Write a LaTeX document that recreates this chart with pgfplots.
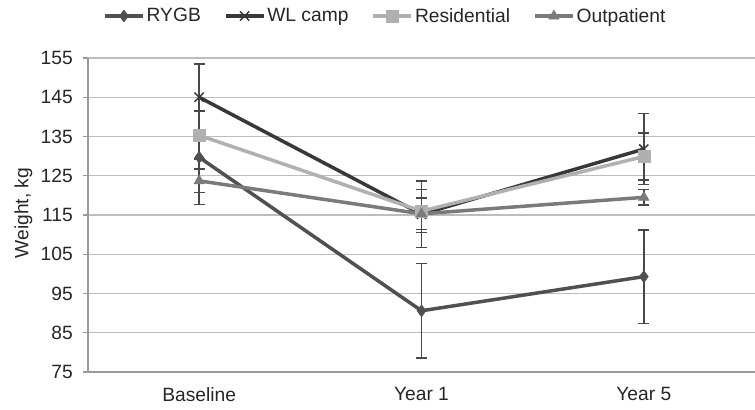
\documentclass[border=0pt]{standalone}
\usepackage{pgfplots}
\pgfplotsset{compat=1.18}
\usepackage{fontspec}
\setmainfont{Liberation Sans}
\definecolor{cRY}{HTML}{505050}
\definecolor{cWL}{HTML}{383838}
\definecolor{cRE}{HTML}{B0B0B0}
\definecolor{cOU}{HTML}{7A7A7A}
\definecolor{cErr}{HTML}{484848}
\definecolor{cGrid}{HTML}{BDBDBD}
\definecolor{cAx}{HTML}{9A9A9A}
\newcommand{\lf}{\fontsize{19.3}{23}\selectfont}
\begin{document}
\begin{tikzpicture}
\begin{axis}[
  at={(0,0)}, anchor=south west,
  scale only axis, width=667bp, height=314bp,
  xmin=-0.5, xmax=2.5, ymin=75, ymax=155,
  ytick={75,85,...,155},
  xtick={0,1,2}, xticklabels={Baseline,Year 1,Year 5},
  minor xtick={0.5,1.5},
  axis x line*=bottom, axis y line*=left,
  axis line style={cAx, line width=1.3bp, -},
  ymajorgrids, major grid style={cGrid, line width=1.3bp},
  tick align=outside,
  xtick style={draw=none},
  minor x tick style={cAx, line width=1.3bp},
  minor tick length=4bp,
  ytick style={cAx, line width=1.3bp},
  major tick length=5bp,
  font=\lf,
  /pgf/number format/assume math mode=true,
  yticklabel style={anchor=east, inner sep=0pt, xshift=-10bp, text=black!85, font=\lf},
  xticklabel style={anchor=north, inner sep=0pt, yshift=-10bp, text=black!85, font=\lf},
  ylabel={Weight, kg},
  ylabel style={at={(axis description cs:-0.097,0.506)}, anchor=center, inner sep=0pt, text=black!85, font=\lf},
  legend columns=4,
  legend style={at={(0,1)}, anchor=west, xshift=12bp, yshift=42bp, draw=none, fill=none,
    font=\lf, text=black!85,
    nodes={inner sep=2bp},
    /tikz/every even column/.append style={column sep=21bp}},
  legend image code/.code={\draw[#1, mark repeat=2, mark phase=2] plot coordinates {(0bp,0bp) (19bp,0bp) (38bp,0bp)};},
  error bars/y dir=both, error bars/y explicit,
  error bars/error bar style={cErr, line width=1.4bp, solid},
  error bars/error mark options={rotate=90, mark size=5.5bp, line width=1.4bp, cErr},
]
\addplot[cRY, line width=3.5bp, mark=diamond*, mark size=6bp, mark options={fill=cRY, draw=cRY, line width=0.5bp}]
  table[x=x, y=y, y error=e] {
x y e
0 129.7 12
1 90.6 12
2 99.3 11.9
};
\addlegendentry{\lf RYGB}
\addplot[cWL, line width=3.5bp, mark=x, mark size=6.5bp, mark options={draw=cWL, line width=1.5bp}]
  table[x=x, y=y, y error=e] {
x y e
0 145.0 8.5
1 115.2 8.5
2 131.8 9.0
};
\addlegendentry{\lf WL camp}
\addplot[cRE, line width=3.5bp, mark=square*, mark size=6bp, mark options={fill=cRE, draw=cRE, line width=0.5bp}]
  table[x=x, y=y, y error=e] {
x y e
0 135.3 6.0
1 116.0 5.5
2 129.9 6.0
};
\addlegendentry{\lf Residential}
\addplot[cOU, line width=3.5bp, mark=triangle*, mark size=6bp, mark options={fill=cOU, draw=cOU, line width=0.5bp}]
  table[x=x, y=y, y error=e] {
x y e
0 123.7 3.0
1 115.3 4.0
2 119.5 2.0
};
\addlegendentry{\lf Outpatient}
\end{axis}
\pgfresetboundingbox
\path[use as bounding box] (-88bp,-38bp) rectangle (667bp,372bp);
\end{tikzpicture}
\end{document}
